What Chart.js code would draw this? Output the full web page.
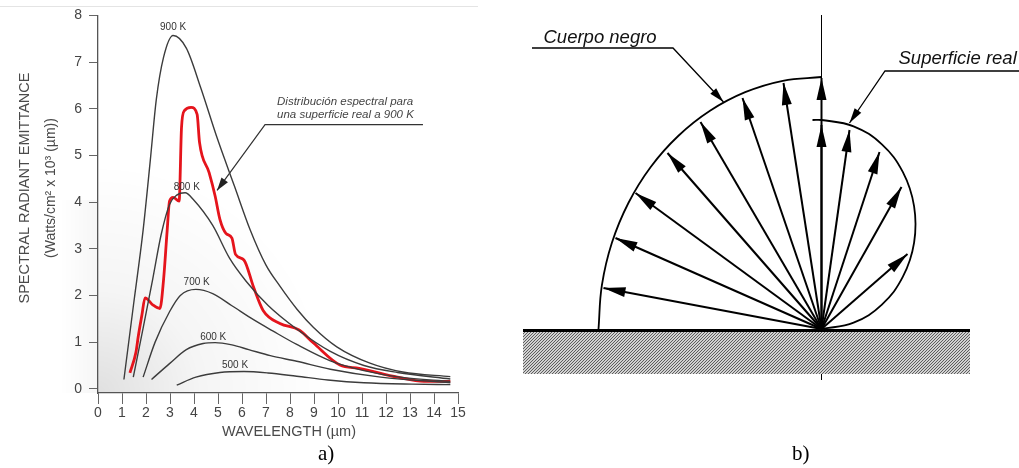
<!DOCTYPE html>
<html>
<head>
<meta charset="utf-8">
<script src="https://cdn.jsdelivr.net/npm/chart.js@4.4.1/dist/chart.umd.min.js"></script>
<style>
    html, body { margin: 0; padding: 0; background: #fff; }
    body { width: 1019px; height: 468px; position: relative; overflow: hidden; }
    #espectro { position: absolute; left: 0; top: 0; }
    #emision { position: absolute; left: 500px; top: 0; }
    .cap { position: absolute; top: 443px; font-family: "Liberation Serif", serif; font-size: 21px; line-height: 21px; color: #000; }
</style>
</head>
<body>
<canvas id="espectro" width="500" height="468"></canvas>
<canvas id="emision" width="519" height="468"></canvas>
<div class="cap" style="left:318px">a)</div>
<div class="cap" style="left:792px">b)</div>
<script>
// ---- a) emitancia espectral (longitud de onda en um, emitancia en W/cm2 x 10^3)
const onda900 = [1.08, 1.48, 1.88, 2.18, 2.43, 2.73, 3.13, 3.68, 4.28, 4.98, 5.68, 6.33, 7.0, 7.58, 8.3, 8.97, 9.95, 11.33, 12.7, 14.68];
const emit900 = [0.2, 1.8, 3.4, 4.9, 6.2, 7.1, 7.57, 7.3, 6.45, 5.35, 4.35, 3.42, 2.65, 2.2, 1.7, 1.32, 0.9, 0.55, 0.36, 0.26];
const onda800 = [1.47, 1.88, 2.28, 2.63, 2.98, 3.28, 3.63, 3.98, 4.78, 5.48, 6.18, 7.1, 8.28, 9.68, 11.08, 12.48, 14.68];
const emit800 = [0.25, 1.3, 2.35, 3.3, 3.95, 4.15, 4.2, 4.05, 3.5, 2.8, 2.3, 1.78, 1.28, 0.8, 0.5, 0.35, 0.21];
const onda700 = [1.88, 2.38, 2.98, 3.43, 4.08, 4.78, 5.58, 6.48, 7.28, 8.28, 9.68, 11.08, 12.58, 14.68];
const emit700 = [0.25, 1.0, 1.65, 2.0, 2.13, 2.04, 1.78, 1.48, 1.24, 0.95, 0.6, 0.39, 0.25, 0.16];
const onda600 = [2.23, 2.98, 3.68, 4.38, 4.88, 5.58, 6.28, 7.18, 8.28, 9.68, 11.78, 14.68];
const emit600 = [0.2, 0.54, 0.84, 0.97, 0.99, 0.94, 0.84, 0.71, 0.59, 0.42, 0.25, 0.13];
const onda500 = [3.28, 4.08, 5.08, 6.08, 7.08, 8.28, 9.58, 11.08, 13.08, 14.68];
const emit500 = [0.08, 0.25, 0.35, 0.37, 0.34, 0.27, 0.19, 0.13, 0.1, 0.09];
const ondaReal = [1.33, 1.58, 1.68, 1.83, 1.96, 2.28, 2.58, 2.73, 2.88, 2.98, 3.13, 3.38, 3.48, 3.6, 3.88, 4.13, 4.23, 4.63, 4.88, 5.08, 5.33, 5.58, 5.73, 6.08, 6.48, 6.88, 7.58, 8.38, 8.98, 10.08, 10.88, 12.48, 13.58, 14.68];
const emitReal = [0.34, 0.78, 1.13, 1.58, 1.95, 1.8, 1.72, 2.33, 3.38, 4.02, 4.1, 4.02, 5.6, 5.96, 6.03, 5.88, 5.28, 4.63, 4.13, 3.63, 3.33, 3.23, 2.88, 2.76, 2.18, 1.68, 1.4, 1.26, 0.98, 0.51, 0.44, 0.25, 0.16, 0.16];

const etiquetasK = ["900 K", "800 K", "700 K", "600 K", "500 K"];
const etiquetasKx = [3.13, 3.7, 4.11, 4.8, 5.71];
const etiquetasKy = [7.74, 4.32, 2.29, 1.11, 0.5];

const ticksOnda = [0, 1, 2, 3, 4, 5, 6, 7, 8, 9, 10, 11, 12, 13, 14, 15];
const ticksEmit = [0, 1, 2, 3, 4, 5, 6, 7, 8];

// nota "Distribucion espectral..." : linea de referencia
const notaX = [13.54, 6.96, 4.96];
const notaY = [5.66, 5.66, 4.25];

// ---- b) emision direccional (coordenadas relativas al punto de emision)
const negroX = [-218, -206, -186, -154, -121, -79, -38, 0];
const negroY = [41, 91, 136, 176, 207, 231, 246, 251];
const realX = [0, 28, 58, 80, 86];
const realY = [204, 199, 177, 142, 75];
const bordeNegroX = [-223, -219.6, -209.6, -193.1, -170.8, -143.3, -111.5, -76.3, -38.7, 0];
const bordeNegroY = [0, 43.8, 86.2, 126, 162, 193, 218.2, 236.8, 248.2, 252];
const bordeRealX = [-9, 0, 32.1, 60.4, 81.4, 92.6, 92.6, 81.4, 60.4, 32.1, 0];
const bordeRealY = [209, 209, 202.7, 184.6, 156.8, 122.6, 86.4, 52.3, 24.4, 6.3, 0];
const guiaNegroX = [-289.5, -148.5, -98];
const guiaNegroY = [281, 281, 227];
const guiaRealX = [197.5, 63.5, 28];
const guiaRealY = [258, 258, 206];

function puntos(xs, ys) {
    return xs.map((x, i) => ({ x: x, y: ys[i] }));
}

function flecha(ctx, x0, y0, x1, y1, largo, ancho) {
    const ang = Math.atan2(y1 - y0, x1 - x0);
    const bx = x1 - largo * Math.cos(ang);
    const by = y1 - largo * Math.sin(ang);
    ctx.beginPath();
    ctx.moveTo(x1, y1);
    ctx.lineTo(bx + ancho * Math.sin(ang), by - ancho * Math.cos(ang));
    ctx.lineTo(bx - ancho * Math.sin(ang), by + ancho * Math.cos(ang));
    ctx.closePath();
    ctx.fill();
}

function curva(xs, ys, color, ancho) {
    return {
        data: puntos(xs, ys),
        showLine: true,
        borderColor: color,
        borderWidth: ancho,
        pointRadius: 0,
        cubicInterpolationMode: "monotone"
    };
}

const decoradoA = {
    id: "decoradoA",
    beforeDraw(chart) {
        const ctx = chart.ctx;
        const a = chart.chartArea;
        ctx.save();
        const g = ctx.createRadialGradient(a.left, a.bottom, 0, a.left, a.bottom, 230);
        g.addColorStop(0, "rgba(0,0,0,0.12)");
        g.addColorStop(0.45, "rgba(0,0,0,0.04)");
        g.addColorStop(1, "rgba(0,0,0,0)");
        ctx.fillStyle = g;
        ctx.fillRect(a.left, 0, 380, a.bottom);
        const h = ctx.createLinearGradient(60, 0, a.left, 0);
        h.addColorStop(0, "rgba(0,0,0,0)");
        h.addColorStop(1, "rgba(0,0,0,0.035)");
        ctx.fillStyle = h;
        ctx.fillRect(60, 200, a.left - 60, a.bottom - 200);
        ctx.strokeStyle = "#e4e4e4";
        ctx.lineWidth = 1;
        ctx.beginPath();
        ctx.moveTo(0, 6.5);
        ctx.lineTo(478, 6.5);
        ctx.stroke();
        ctx.restore();
    },
    afterDatasetsDraw(chart) {
        const ctx = chart.ctx;
        const sx = chart.scales.x;
        const sy = chart.scales.y;
        ctx.save();
        ctx.fillStyle = "#333";
        ctx.textAlign = "center";
        ctx.textBaseline = "middle";
        ctx.font = "10px 'Liberation Sans'";
        etiquetasK.forEach((t, i) => {
            ctx.fillText(t, sx.getPixelForValue(etiquetasKx[i]), sy.getPixelForValue(etiquetasKy[i]));
        });

        // punta de la linea de la nota
        ctx.fillStyle = "#222";
        flecha(ctx, sx.getPixelForValue(notaX[1]), sy.getPixelForValue(notaY[1]),
            sx.getPixelForValue(notaX[2]), sy.getPixelForValue(notaY[2]), 13, 4);

        ctx.fillStyle = "#444";
        ctx.textAlign = "left";
        ctx.textBaseline = "alphabetic";
        ctx.font = "italic 11.5px 'Liberation Sans'";
        ctx.fillText("Distribución espectral para", sx.getPixelForValue(7.46), sy.getPixelForValue(6.09));
        ctx.fillText("una superficie real a 900 K", sx.getPixelForValue(7.46), sy.getPixelForValue(5.81));

        // titulos de ejes
        ctx.fillStyle = "#4a4a4a";
        ctx.textAlign = "center";
        ctx.textBaseline = "middle";
        ctx.font = "14.5px 'Liberation Sans'";
        ctx.fillText("WAVELENGTH (µm)", 289, 432);
        ctx.translate(25, 188);
        ctx.rotate(-Math.PI / 2);
        ctx.fillText("SPECTRAL RADIANT EMITTANCE", 0, 0);
        ctx.font = "14px 'Liberation Sans'";
        ctx.fillText("(Watts/cm² x 10³ (µm))", 0, 26);
        ctx.restore();
    }
};

const datosA = [
    curva(onda900, emit900, "#3c3c3c", 1.4),
    curva(onda800, emit800, "#3c3c3c", 1.4),
    curva(onda700, emit700, "#3c3c3c", 1.4),
    curva(onda600, emit600, "#3c3c3c", 1.4),
    curva(onda500, emit500, "#3c3c3c", 1.4),
    { data: puntos(notaX, notaY), showLine: true, borderColor: "#333", borderWidth: 1.2, pointRadius: 0, tension: 0 },
    curva(ondaReal, emitReal, "#e5141c", 2.8)
];

new Chart(document.getElementById("espectro"), {
    type: "scatter",
    data: { datasets: datosA },
    options: {
        responsive: false,
        animation: false,
        devicePixelRatio: 1,
        layout: { padding: { left: 0, right: 42, top: 15, bottom: 0 } },
        plugins: { legend: { display: false }, tooltip: { enabled: false } },
        scales: {
            x: {
                type: "linear",
                min: 0,
                max: 15,
                afterBuildTicks: s => { s.ticks = ticksOnda.map(v => ({ value: v })); },
                afterFit: s => { s.height = 75; },
                grid: { drawOnChartArea: false, drawTicks: true, tickLength: 11, color: "#666" },
                border: { display: true, color: "#555", width: 1.3 },
                ticks: { color: "#444", padding: 1, maxRotation: 0, autoSkip: false, font: { family: "Liberation Sans", size: 14 } }
            },
            y: {
                type: "linear",
                min: -0.09,
                max: 8,
                afterBuildTicks: s => { s.ticks = ticksEmit.map(v => ({ value: v })); },
                afterFit: s => { s.width = 98; },
                grid: { drawOnChartArea: false, drawTicks: true, tickLength: 9, color: "#666" },
                border: { display: true, color: "#555", width: 1.3 },
                ticks: { color: "#444", padding: 7, font: { family: "Liberation Sans", size: 14 } }
            }
        }
    },
    plugins: [decoradoA]
});

// ---- b)
const lienzoB = document.getElementById("emision");
const muestra = document.createElement("canvas");
muestra.width = 3;
muestra.height = 3;
const mctx = muestra.getContext("2d");
mctx.fillStyle = "#d2d2d2";
mctx.fillRect(0, 0, 3, 3);
mctx.strokeStyle = "#5e5e5e";
mctx.lineWidth = 1;
mctx.beginPath();
mctx.moveTo(0, 3);
mctx.lineTo(3, 0);
mctx.stroke();
const trama = lienzoB.getContext("2d").createPattern(muestra, "repeat");

function segmento(xs, ys, ancho) {
    return { data: puntos(xs, ys), showLine: true, borderColor: "#000", borderWidth: ancho, pointRadius: 0, tension: 0 };
}

const datosB = [
    { data: puntos([-298.5, 148.5], [-3, -3]), showLine: true, borderWidth: 0, pointRadius: 0, backgroundColor: trama, fill: { value: -45 } },
    segmento([-298.5, 148.5], [-1.5, -1.5], 3),
    segmento([0, 0], [314, -51], 1),
    { data: puntos(bordeNegroX, bordeNegroY), showLine: true, borderColor: "#000", borderWidth: 1.8, pointRadius: 0, tension: 0.4 },
    { data: puntos(bordeRealX, bordeRealY), showLine: true, borderColor: "#000", borderWidth: 1.8, pointRadius: 0, tension: 0.4 },
    segmento(guiaNegroX, guiaNegroY, 1.3),
    segmento(guiaRealX, guiaRealY, 1.3)
];
negroX.forEach((x, i) => datosB.push(segmento([0, x], [0, negroY[i]], 2)));
realX.forEach((x, i) => datosB.push(segmento([0, x], [0, realY[i]], 2)));

const decoradoB = {
    id: "decoradoB",
    afterDatasetsDraw(chart) {
        const ctx = chart.ctx;
        const sx = chart.scales.x;
        const sy = chart.scales.y;
        const px = v => sx.getPixelForValue(v);
        const py = v => sy.getPixelForValue(v);
        ctx.save();
        ctx.fillStyle = "#000";
        negroX.forEach((x, i) => flecha(ctx, px(0), py(0), px(x), py(negroY[i]), 22, 5));
        realX.forEach((x, i) => flecha(ctx, px(0), py(0), px(x), py(realY[i]), 22, 5));
        flecha(ctx, px(guiaNegroX[1]), py(guiaNegroY[1]), px(guiaNegroX[2]), py(guiaNegroY[2]), 15, 4);
        flecha(ctx, px(guiaRealX[1]), py(guiaRealY[1]), px(guiaRealX[2]), py(guiaRealY[2]), 15, 4);

        ctx.fillStyle = "#111";
        ctx.textAlign = "left";
        ctx.textBaseline = "alphabetic";
        ctx.font = "italic 18.5px 'Liberation Sans'";
        ctx.fillText("Cuerpo negro", px(-278), py(286));
        ctx.fillText("Superficie real", px(77), py(265));
        ctx.restore();
    }
};

new Chart(lienzoB, {
    type: "scatter",
    data: { datasets: datosB },
    options: {
        responsive: false,
        animation: false,
        devicePixelRatio: 1,
        layout: { padding: 0 },
        plugins: { legend: { display: false }, tooltip: { enabled: false } },
        scales: {
            x: { type: "linear", min: -321.5, max: 197.5, display: false },
            y: { type: "linear", min: -139, max: 329, display: false }
        }
    },
    plugins: [decoradoB]
});
</script>
</body>
</html>
